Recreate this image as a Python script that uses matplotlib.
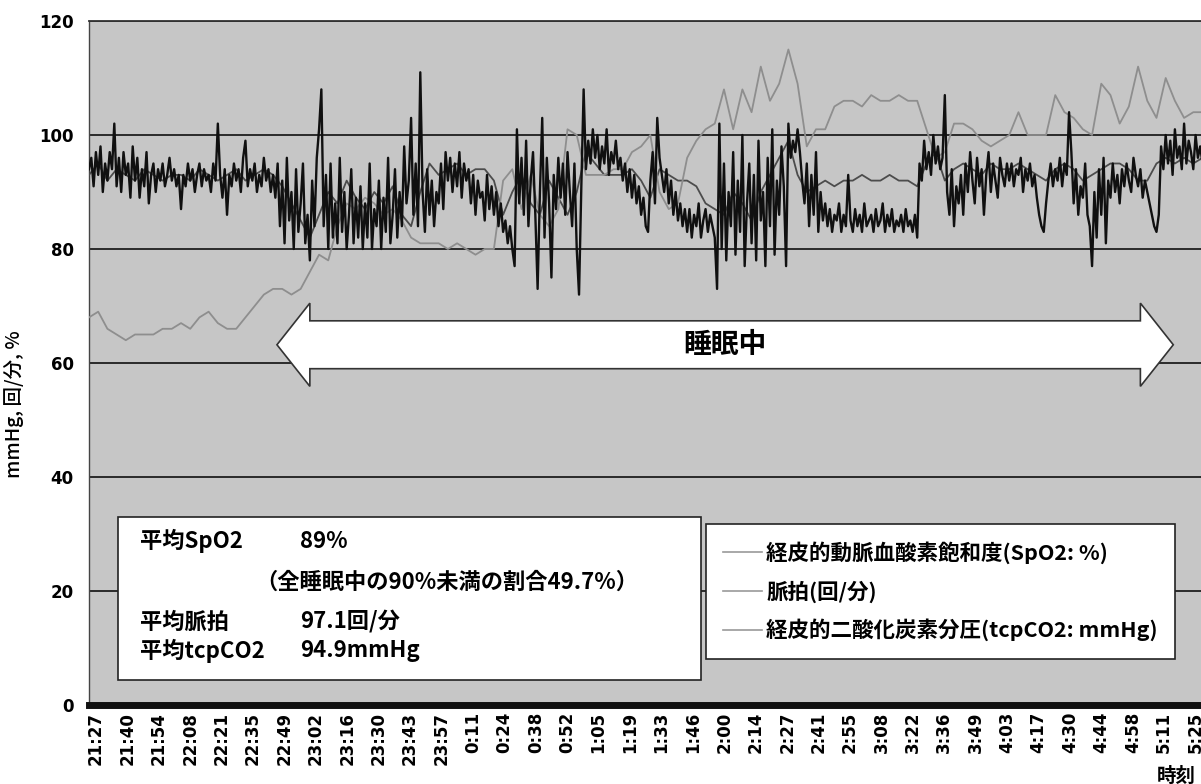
import numpy as np
import matplotlib
matplotlib.use('Agg')
from matplotlib import pyplot as plt
from matplotlib.patches import Polygon, Rectangle
from matplotlib.font_manager import FontProperties

# 時刻ラベル（Excel の項目軸ラベル）
tick_labels = ['21:27', '21:40', '21:54', '22:08', '22:21', '22:35', '22:49', '23:02',
               '23:16', '23:30', '23:43', '23:57', '0:11', '0:24', '0:38', '0:52',
               '1:05', '1:19', '1:33', '1:46', '2:00', '2:14', '2:27', '2:41',
               '2:55', '3:08', '3:22', '3:36', '3:49', '4:03', '4:17', '4:30',
               '4:44', '4:58', '5:11', '5:25']
span_minutes = 478          # 21:27 -> 5:25
t_start = -3                # 最初のサンプル（21:27 からの分）

# SpO2 (%) 1分毎
spo2_step = 1
spo2 = [94, 96, 91, 97, 93, 98, 90, 95, 92, 97, 94, 102, 91, 96, 90, 97, 93, 95, 89, 98,
        92, 96, 89, 94, 91, 97, 88, 93, 95, 90, 94, 92, 95, 91, 93, 96, 92, 94, 91, 93,
        87, 93, 91, 95, 92, 94, 90, 93, 95, 91, 94, 92, 93, 90, 95, 92, 102, 93, 89, 94,
        86, 93, 91, 95, 92, 94, 90, 96, 99, 91, 94, 92, 95, 90, 93, 91, 96, 92, 94, 90,
        93, 89, 95, 84, 92, 81, 96, 85, 90, 80, 94, 83, 88, 95, 81, 86, 78, 92, 84, 96,
        101, 108, 84, 93, 80, 95, 82, 88, 81, 96, 83, 90, 80, 86, 94, 81, 89, 82, 91, 80,
        88, 82, 95, 80, 87, 84, 92, 80, 89, 83, 96, 81, 86, 94, 82, 90, 84, 98, 88, 92,
        103, 86, 95, 84, 111, 90, 83, 94, 86, 92, 84, 90, 88, 95, 87, 97, 92, 96, 90, 95,
        91, 97, 89, 95, 92, 94, 88, 93, 86, 92, 89, 90, 85, 93, 87, 91, 86, 90, 84, 88,
        83, 85, 81, 84, 80, 77, 101, 88, 96, 86, 99, 84, 92, 97, 86, 73, 90, 103, 82, 96,
        88, 75, 93, 87, 96, 89, 95, 86, 97, 90, 84, 95, 80, 72, 91, 108, 94, 99, 95, 101,
        96, 100, 94, 98, 95, 101, 93, 97, 95, 99, 94, 96, 92, 95, 90, 94, 89, 93, 88, 91,
        86, 89, 84, 83, 92, 97, 88, 103, 96, 93, 90, 94, 88, 92, 86, 90, 85, 88, 84, 87,
        83, 87, 82, 86, 84, 88, 82, 85, 87, 83, 86, 84, 82, 73, 102, 80, 95, 78, 90, 84,
        97, 79, 92, 83, 100, 77, 88, 95, 81, 93, 78, 99, 85, 90, 77, 96, 84, 101, 79, 92,
        86, 98, 91, 77, 102, 96, 99, 97, 101, 97, 92, 88, 95, 84, 93, 86, 97, 83, 90, 85,
        88, 84, 87, 83, 86, 85, 88, 83, 86, 84, 93, 85, 83, 87, 84, 86, 83, 88, 84, 85,
        86, 83, 87, 84, 85, 88, 83, 86, 84, 87, 83, 85, 84, 86, 83, 87, 84, 85, 83, 86,
        82, 95, 92, 99, 94, 97, 93, 100, 95, 98, 94, 96, 107, 90, 86, 94, 84, 91, 88, 93,
        86, 95, 90, 97, 92, 88, 96, 91, 94, 86, 93, 97, 90, 95, 92, 89, 96, 93, 91, 95,
        92, 95, 91, 94, 93, 96, 90, 94, 92, 95, 91, 93, 89, 86, 84, 83, 88, 92, 95, 91,
        94, 92, 96, 91, 95, 93, 104, 97, 88, 94, 86, 91, 89, 95, 86, 84, 77, 90, 82, 94,
        86, 96, 81, 92, 89, 95, 90, 93, 88, 94, 91, 95, 92, 90, 96, 93, 91, 94, 89, 92,
        90, 88, 86, 84, 83, 86, 98, 94, 100, 95, 99, 93, 101, 96, 98, 94, 102, 95, 99, 97,
        94, 100, 96, 98, 95, 101, 94, 97, 95, 98]

# 脈拍 (回/分) 4分毎
pulse_step = 4
pulse = [93, 95, 92, 94, 93, 92, 94, 93, 92, 93,
         93, 92, 94, 93, 92, 93, 94, 92, 93, 94,
         93, 91, 88, 85, 82, 86, 90, 88, 92, 89,
         87, 90, 88, 91, 86, 84, 90, 95, 93, 94,
         95, 93, 94, 94, 92, 86, 90, 93, 88, 86,
         92, 89, 86, 90, 97, 95, 93, 93, 93, 94,
         92, 89, 94, 93, 92, 92, 91, 88, 87, 86,
         90, 88, 85, 90, 93, 96, 99, 93, 90, 91,
         92, 91, 92, 92, 93, 92, 92, 93, 92, 92,
         91, 95, 97, 92, 94, 95, 94, 93, 95, 94,
         94, 95, 94, 93, 92, 94, 95, 94, 92, 93,
         94, 95, 95, 94, 92, 92, 95, 96, 95, 96,
         95, 96, 95]

# tcpCO2 (mmHg) 4分毎
tcpco2_step = 4
tcpco2 = [68, 69, 66, 65, 64, 65, 65, 65, 66, 66,
          67, 66, 68, 69, 67, 66, 66, 68, 70, 72,
          73, 73, 72, 73, 76, 79, 78, 84, 88, 87,
          89, 88, 86, 87, 85, 82, 81, 81, 81, 80,
          81, 80, 79, 80, 80, 92, 94, 87, 93, 86,
          84, 87, 101, 100, 93, 93, 93, 94, 94, 97,
          98, 100, 90, 87, 88, 96, 99, 101, 102, 108,
          101, 108, 104, 112, 106, 109, 115, 109, 98, 101,
          101, 105, 106, 106, 105, 107, 106, 106, 107, 106,
          106, 101, 96, 97, 102, 102, 101, 99, 98, 99,
          100, 104, 100, 100, 100, 107, 104, 103, 101, 100,
          109, 107, 102, 105, 112, 106, 103, 110, 106, 103,
          104, 104, 104]

series_names = ['経皮的動脈血酸素飽和度(SpO2: %)', '脈拍(回/分)', '経皮的二酸化炭素分圧(tcpCO2: mmHg)']
stat_lines = [('平均SpO2', '89%'), ('平均脈拍', '97.1回/分'), ('平均tcpCO2', '94.9mmHg')]
stat_note = '（全睡眠中の90%未満の割合49.7%）'

W, H = 1201, 784
cjk = ['Noto Sans CJK JP', 'DejaVu Sans']
plt.rcParams['font.family'] = cjk

def fx(px):
    return px / W

def fy(py):
    return 1 - py / H

fig = plt.figure(figsize=(W / 100, H / 100), dpi=100)
# 右端は画像の外まで続く
ax = fig.add_axes([fx(89), fy(705), 1125 / W, 684 / H])
ax.set_facecolor('#c6c6c6')

t_spo2 = t_start + spo2_step * np.arange(len(spo2))
t_pulse = t_start + pulse_step * np.arange(len(pulse))
t_tcp = t_start + tcpco2_step * np.arange(len(tcpco2))

l1, = ax.plot(t_spo2, spo2, color='#101010', lw=1.7, zorder=4)
l2, = ax.plot(t_pulse, pulse, color='#4c4c4c', lw=1.3, zorder=3)
l3, = ax.plot(t_tcp, tcpco2, color='#8e8e8e', lw=1.3, zorder=3.5)

ax.set_xlim(-3, 486)
ax.set_ylim(0, 120)
ax.set_yticks(np.arange(0, 121, 20))
ax.yaxis.grid(True, color='#2a2a2a', lw=1.4)
ax.set_axisbelow(True)

ax.set_xticks(np.linspace(0, span_minutes, len(tick_labels)))
ax.set_xticklabels(tick_labels, rotation=90)
for lab in ax.get_xticklabels() + ax.get_yticklabels():
    lab.set_fontfamily('DejaVu Sans')
    lab.set_fontweight('bold')
    lab.set_fontsize(12)
ax.tick_params(axis='x', length=0, pad=5)
ax.tick_params(axis='y', length=0, pad=11)

ax.spines['bottom'].set_linewidth(5)
ax.spines['bottom'].set_color('#111111')
ax.spines['top'].set_linewidth(1.3)
ax.spines['top'].set_color('#333333')
ax.spines['left'].set_linewidth(1.0)
ax.spines['left'].set_color('#444444')
ax.spines['right'].set_visible(False)

ax.set_ylabel('mmHg, 回/分, %', fontsize=14, fontweight='medium')
ax.yaxis.set_label_coords(-0.058, 0.44)

# 睡眠中の両矢印
xl, xr, yc = 78.7, 468.3, 63.2
hb, hh, hl = 4.2, 7.3, 14.3
arrow = Polygon([(xl, yc), (xl + hl, yc + hh), (xl + hl, yc + hb), (xr - hl, yc + hb),
                 (xr - hl, yc + hh), (xr, yc), (xr - hl, yc - hh), (xr - hl, yc - hb),
                 (xl + hl, yc - hb), (xl + hl, yc - hh)],
                closed=True, facecolor='white', edgecolor='#333333', lw=1.2, zorder=6)
ax.add_patch(arrow)
ax.text((xl + xr) / 2, yc, '睡眠中', ha='center', va='center', fontsize=20,
        fontweight='bold', zorder=7)

# 平均値のボックス
fig.add_artist(Rectangle((fx(118), fy(680)), (701 - 118) / W, (680 - 517) / H,
                         transform=fig.transFigure, facecolor='white',
                         edgecolor='#222222', lw=1.2, zorder=5))
stat_y = [541, 622, 651]
for (name, val), yy in zip(stat_lines, stat_y):
    fig.text(fx(140), fy(yy), name, ha='left', va='center', fontsize=16,
             fontweight='bold', zorder=6)
    fig.text(fx(300), fy(yy), val, ha='left', va='center', fontsize=16,
             fontweight='bold', zorder=6)
fig.text(fx(255), fy(582), stat_note, ha='left', va='center', fontsize=16,
         fontweight='bold', zorder=6)

# 凡例
leg = ax.legend([l1, l2, l3], series_names, loc='upper left',
                bbox_to_anchor=(fx(706), fy(524)), bbox_transform=fig.transFigure,
                borderaxespad=0, fancybox=False, framealpha=1, edgecolor='#222222',
                prop=FontProperties(family=cjk, weight='bold', size=15.5),
                handlelength=1.8, handletextpad=0.2, labelspacing=0.75,
                borderpad=0.8)
leg.get_frame().set_linewidth(1.2)
leg.set_zorder(8)
for h in leg.get_lines():
    h.set_color('#999999')
    h.set_linewidth(1.2)

fig.text(fx(1176), fy(776), '時刻', ha='center', va='center', fontsize=14,
         fontweight='bold')

plt.savefig('out.png', dpi=100)
